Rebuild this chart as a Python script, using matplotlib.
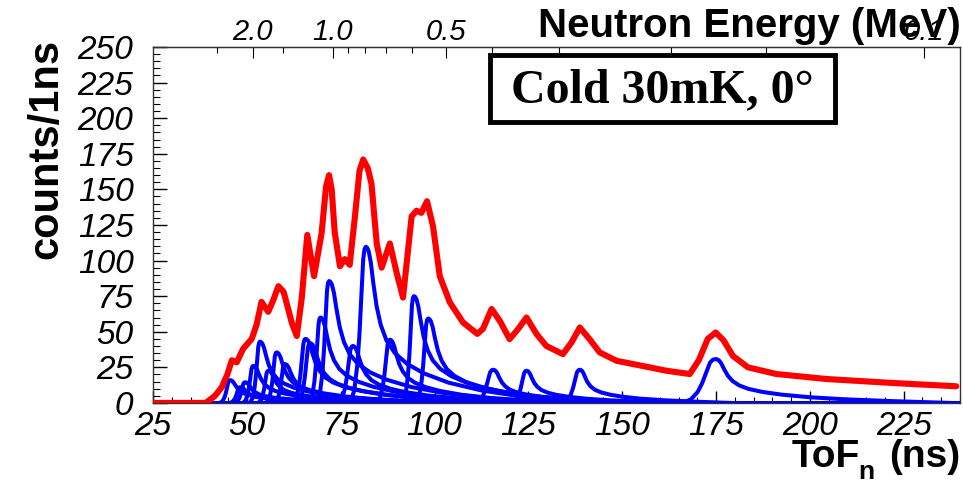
import numpy as np
import matplotlib
matplotlib.use('Agg')
import matplotlib.pyplot as plt
from matplotlib.ticker import MultipleLocator, FixedLocator
from matplotlib.patches import Rectangle

plt.rcParams['font.family'] = ['Liberation Sans', 'DejaVu Sans']

# total spectrum (red)
tof_total = [25, 39, 40.2, 41.5, 43.3, 44.8, 46.0, 47.3, 49.0, 51.3, 52.6, 53.9, 55.7, 57.0,
             58.4, 59.8, 60.8, 62.0, 63.3, 64.6, 66.1, 67.9, 69.9, 71.1, 71.9, 72.6, 73.4, 74.8,
             76.1, 77.4, 78.8, 80.0, 81.0, 82.2, 83.2, 84.6, 85.9, 88.1, 89.9, 91.6, 93.9,
             95.2, 96.5, 98.0, 99.6, 101.4, 104.1, 107.6, 111.4, 112.9, 115.2, 117.4, 120.0,
             122.3, 124.5, 127.2, 129.8, 134.2, 136.5, 138.7, 141.3, 144.0, 148.5, 152.9,
             161.8, 168.0, 170.4, 172.8, 174.9, 177.0, 179.5, 183.5, 191.1, 204.4, 222.1, 239.0]
counts_total = [0, 0, 2.3, 5, 11, 20, 30, 28.5, 38, 45, 55, 71, 64, 72,
                82, 78, 68, 56, 47, 73, 118, 89, 119, 152, 160, 150, 120, 96,
                101, 97, 131, 163, 171, 165, 154, 112, 95, 112, 91.5, 74, 131,
                135, 133.5, 141.7, 124, 89, 70.5, 56.5, 48.5, 52, 66, 57.6, 44.8,
                52, 60, 48.3, 40, 34.3, 42.5, 53, 44.8, 35.5, 29.6, 27.3,
                22.6, 20.3, 30, 45, 49.5, 44, 33, 25, 20.3, 16.8, 14, 11.7]

# individual components (blue): peak position, height, rise and tail widths (ns)
peak_tof = [45.5, 48.2, 49.5, 51.7, 53.5, 55.7, 57.9, 60.1, 65.6, 66.8, 69.6, 71.9,
            78.2, 81.7, 88.1, 94.5, 98.3, 115.6, 124.5, 138.7, 174.9]
peak_height = [16, 11, 14.5, 26, 43, 22.6, 35.5, 27.3, 45, 42, 60, 85.6,
               40, 109.7, 44.4, 75, 59.3, 23.3, 22.6, 23.3, 30.8]
peak_rise = [0.9, 0.9, 0.9, 0.9, 0.9, 0.9, 0.9, 0.9, 1.1, 1.1, 1.0, 1.1,
             1.3, 1.4, 1.2, 1.0, 1.1, 1.6, 1.3, 1.5, 3.0]
peak_tail = [1.6, 1.6, 1.6, 1.7, 1.8, 1.7, 1.8, 1.8, 2.1, 2.1, 2.0, 2.2,
             2.0, 2.2, 1.9, 2.0, 2.0, 1.8, 1.6, 1.6, 2.5]

# peak line shape (offsets in widths, fraction of height)
rise_dt = [-3.0, -2.2, -1.6, -1.2, -0.8, -0.5, -0.25, 0.0]
rise_frac = [0.0, 0.08, 0.25, 0.45, 0.72, 0.92, 0.985, 1.0]
tail_dt = [0.15, 0.35, 0.6, 0.9, 1.3, 1.8, 2.5, 3.5, 5, 7, 10, 14, 19, 25]
tail_frac = [0.995, 0.97, 0.9, 0.77, 0.62, 0.5, 0.4, 0.32, 0.25, 0.19, 0.13, 0.08, 0.04, 0.0]

T_1MEV = 72.9  # ToF of a 1 MeV neutron


def t2e(t):
    t = np.clip(np.asarray(t, float), 1e-3, None)
    return (T_1MEV / t) ** 2


def e2t(e):
    e = np.clip(np.asarray(e, float), 1e-6, None)
    return T_1MEV / np.sqrt(e)


fig = plt.figure(figsize=(9.63, 4.84), dpi=100)
ax = fig.add_axes([0.1589, 0.1675, 0.838, 0.7354])

ax.plot([25, 240], [0, 0], color='red', lw=2, zorder=2)
for t0, h, wr, wt in zip(peak_tof, peak_height, peak_rise, peak_tail):
    xs = [t0 + d * wr for d in rise_dt] + [t0 + d * wt for d in tail_dt]
    ys = [h * f for f in rise_frac] + [h * f for f in tail_frac]
    ax.plot(xs, ys, color='#0000ff', lw=2.9, zorder=3, solid_joinstyle='round')
ax.plot([40, 240], [0, 0], color='#0000ff', lw=2.9, zorder=3)
ax.plot(tof_total, counts_total, color='red', lw=4.4, zorder=4,
        solid_joinstyle='round', solid_capstyle='round')

ax.set_xlim(25, 240)
ax.set_ylim(0, 250)
ax.xaxis.set_major_locator(MultipleLocator(25))
ax.xaxis.set_minor_locator(MultipleLocator(5))
ax.yaxis.set_major_locator(MultipleLocator(25))
ax.yaxis.set_minor_locator(MultipleLocator(5))
ax.tick_params(axis='x', which='major', direction='in', length=9, width=1, pad=6,
               labelsize=24, top=False)
ax.tick_params(axis='x', which='minor', direction='in', length=4.5, width=0.8, top=False)
ax.tick_params(axis='y', which='major', direction='in', length=10, width=1, pad=14,
               labelsize=24, right=False)
ax.tick_params(axis='y', which='minor', direction='in', length=5, width=0.8, right=False)
for lab in ax.get_xticklabels() + ax.get_yticklabels():
    lab.set_fontstyle('italic')
for sp in ax.spines.values():
    sp.set_linewidth(1.0)
    sp.set_color('#333333')

sec = ax.secondary_xaxis('top', functions=(t2e, e2t))
sec.xaxis.set_minor_locator(FixedLocator([3.0, 1.5, 0.9, 0.8, 0.7, 0.6, 0.4, 0.3, 0.2, 0.15]))
sec.set_xticks([2.0, 1.0, 0.5, 0.1], labels=['2.0', '1.0', '0.5', '0.1'])
sec.tick_params(which='major', direction='in', length=8, width=0.8, pad=1, labelsize=21)
sec.tick_params(which='minor', direction='in', length=4, width=0.8)
for lab in sec.get_xticklabels():
    lab.set_fontstyle('italic')

fig.text(0.998, 0.985, 'Neutron Energy (MeV)', ha='right', va='top',
         fontsize=29, fontweight='bold')
# x title: ToF with a subscript n, then (ns)
fig.text(0.997, 0.018, '(ns)', ha='right', va='bottom', fontsize=28, fontweight='bold')
fig.text(0.893, 0.018, 'ToF', ha='right', va='bottom', fontsize=28, fontweight='bold')
fig.text(0.891, 0.0, 'n', ha='left', va='bottom', fontsize=19, fontweight='bold')
fig.text(0.048, 0.92, 'counts/1ns', rotation=90, ha='center', va='top',
         fontsize=30, fontweight='bold')

ax.add_patch(Rectangle((0.4176, 0.79), 0.4274, 0.188, transform=ax.transAxes,
                       facecolor='white', edgecolor='black', linewidth=3.5, zorder=6))
ax.text(0.631, 0.879, 'Cold 30mK, 0\u00b0', transform=ax.transAxes, ha='center', va='center',
        fontsize=34.5, fontweight='bold', family='Liberation Serif', zorder=7)

fig.savefig('out.png', dpi=100)
